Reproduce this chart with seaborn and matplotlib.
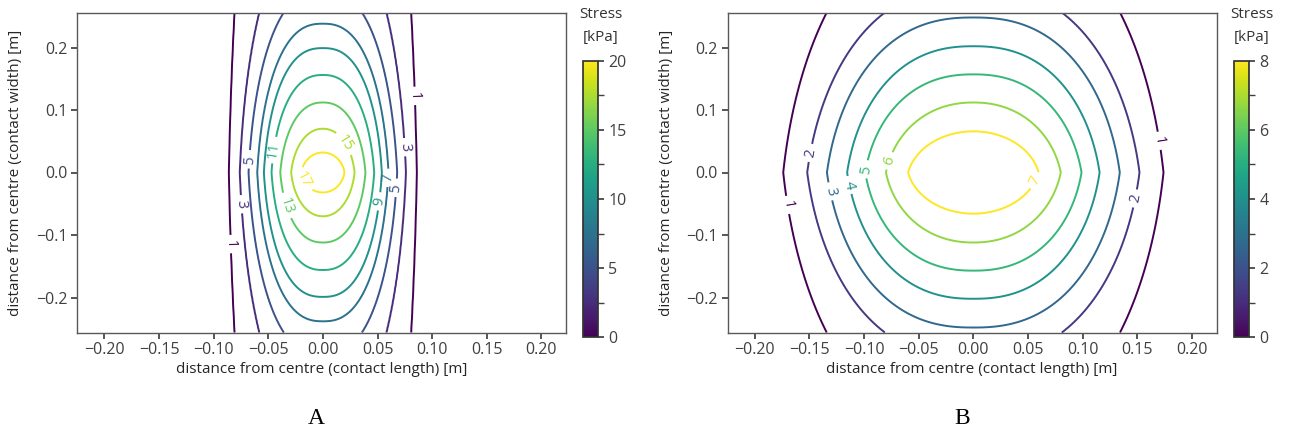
import numpy as np
import matplotlib
matplotlib.use("Agg")
import matplotlib.pyplot as plt
import seaborn as sns
from matplotlib.ticker import MultipleLocator
from matplotlib.colors import Normalize
from matplotlib.cm import ScalarMappable

sns.set_theme(style="ticks")
plt.rcParams['font.family'] = ['Open Sans', 'DejaVu Sans']

# Panel A: contour levels and the extents
levels_a = [1, 3, 5, 7, 9, 11, 13, 15, 17]
half_len_a = [0.086, 0.076, 0.068, 0.060, 0.054, 0.047, 0.039, 0.029, 0.020]  # x reach at y=0
half_wid_a = [0.870, 0.393, 0.292, 0.238, 0.199, 0.156, 0.112, 0.070, 0.032]  # y reach at x=0
shape_a = [2.5, 2.5, 2.5, 2.5, 2.5, 2.4, 2.3, 2.1, 2.0]
edge_a = [0.092, 2.5]  # reach of the zero line
peak_a = 18.5
vmax_a = 20
labels_a = {1: [(-0.092, -0.115), (0.083, 0.123)], 3: [(-0.078, -0.051), (0.074, 0.040)],
            5: [(-0.069, 0.021), (0.064, -0.024)], 7: [(0.059, -0.008)], 9: [(0.047, -0.045)],
            11: [(-0.043, 0.035)], 13: [(-0.031, -0.051)], 15: [(0.019, 0.046)],
            17: [(-0.017, -0.011)]}

# Panel B
levels_b = [1, 2, 3, 4, 5, 6, 7]
half_len_b = [0.174, 0.152, 0.134, 0.1155, 0.099, 0.080, 0.060]
half_wid_b = [0.414, 0.298, 0.248, 0.202, 0.157, 0.112, 0.066]
shape_b = [2.4, 2.4, 2.4, 2.35, 2.3, 2.15, 2.0]
edge_b = [0.196, 0.65]
peak_b = 7.9
vmax_b = 8
labels_b = {1: [(-0.1685, -0.051), (0.171, 0.051)], 2: [(-0.151, 0.032), (0.145, -0.040)],
            3: [(-0.128, -0.029)], 4: [(-0.112, -0.019)], 5: [(-0.099, 0.005)],
            6: [(-0.078, 0.019)], 7: [(0.054, -0.011)]}

x = np.linspace(-0.225, 0.2225, 450)
y = np.linspace(-0.256, 0.256, 450)
cmap = sns.color_palette("viridis", as_cmap=True)


def stress_field(levels, half_len, half_wid, shape, edge, peak, alpha):
    # build a smooth field whose level lines pass through the read extents
    L = np.concatenate([[0], levels, [peak]])
    A = np.concatenate([[edge[0]], half_len, [1e-4]])
    B = np.concatenate([[edge[1]], half_wid, [1e-4]])
    P = np.concatenate([[shape[0]], shape, [shape[-1]]])
    X, Y = np.meshgrid(x, y)
    ls = np.linspace(0, peak, 400)

    def radius(l):
        a, b, p = np.interp(l, L, A), np.interp(l, L, B), np.interp(l, L, P)
        t = np.abs(Y) / b
        return (np.abs(X) / a) ** p + alpha * t + (1 - alpha) * t ** 2

    S = np.zeros_like(X)
    r_prev = radius(ls[0])
    for i in range(1, len(ls)):
        r = radius(ls[i])
        m = (r_prev <= 1) & (r > 1)
        S[m] = ls[i - 1] + (1 - r_prev[m]) / (r[m] - r_prev[m]) * (ls[i] - ls[i - 1])
        r_prev = r
    S[r_prev <= 1] = peak
    return X, Y, S


fig = plt.figure(figsize=(12.9, 4.33), dpi=100)
W, H = 1290, 433

panels = [
    (levels_a, half_len_a, half_wid_a, shape_a, edge_a, peak_a, vmax_a, labels_a, 0.3, 77, 583, 601, 316, "A"),
    (levels_b, half_len_b, half_wid_b, shape_b, edge_b, peak_b, vmax_b, labels_b, 0.35, 727.5, 1234, 1252, 962, "B"),
]

for (levels, hl, hw, shp, edge, peak, vmax, labels, alpha,
     left, cb_left, title_x, tag_x, tag) in panels:
    ax = fig.add_axes([left / W, (H - 332.5) / H, 489 / W, 320 / H])
    X, Y, S = stress_field(levels, hl, hw, shp, edge, peak, alpha)
    # line colours span the drawn levels (matplotlib default)
    cs = ax.contour(X, Y, S, levels=levels, cmap=cmap, linewidths=1.4)
    ax.set_xlim(-0.225, 0.2225)
    ax.set_ylim(-0.256, 0.256)

    # snap each label spot onto its own level line
    spots = []
    for lev, pos in labels.items():
        segs = cs.allsegs[levels.index(lev)]
        pts = np.concatenate([s for s in segs if len(s)])
        for px, py in pos:
            d = ((pts[:, 0] - px) * 1091) ** 2 + ((pts[:, 1] - py) * 623) ** 2
            spots.append(tuple(pts[np.argmin(d)]))
    ax.clabel(cs, manual=spots, inline=True, fmt='%d', fontsize=10.5)

    ax.xaxis.set_major_locator(MultipleLocator(0.05))
    ax.yaxis.set_major_locator(MultipleLocator(0.1))
    ax.tick_params(labelsize=11.5, colors='0.25', length=4, pad=3)
    ax.set_xlabel("distance from centre (contact length) [m]", fontsize=11, labelpad=3, color='0.15')
    ax.set_ylabel("distance from centre (contact width) [m]", fontsize=11, labelpad=9, color='0.15')
    for sp in ax.spines.values():
        sp.set_color('0.35')
        sp.set_linewidth(1.0)

    norm = Normalize(0, vmax)
    cax = fig.add_axes([cb_left / W, (H - 337.3) / H, 15 / W, 276.6 / H])
    cb = fig.colorbar(ScalarMappable(norm=norm, cmap=cmap), cax=cax)
    cb.set_ticks(np.linspace(0, vmax, 5))
    cb.ax.set_yticks(np.linspace(0, vmax, 9), minor=True)
    cb.ax.tick_params(which='both', labelsize=11.5, colors='0.25', length=4)
    cb.outline.set_edgecolor('0.2')
    fig.text(title_x / W, 1 - 15 / H, "Stress", ha='center', va='center', fontsize=11, color='0.2')
    fig.text(title_x / W, 1 - 37 / H, "[kPa]", ha='center', va='center', fontsize=11, color='0.2')

    fig.text(tag_x / W, 1 - 419 / H, tag, ha='center', va='center', fontsize=17,
             family=['Liberation Serif', 'DejaVu Serif'], color='black')

fig.savefig("out.png", dpi=100)
